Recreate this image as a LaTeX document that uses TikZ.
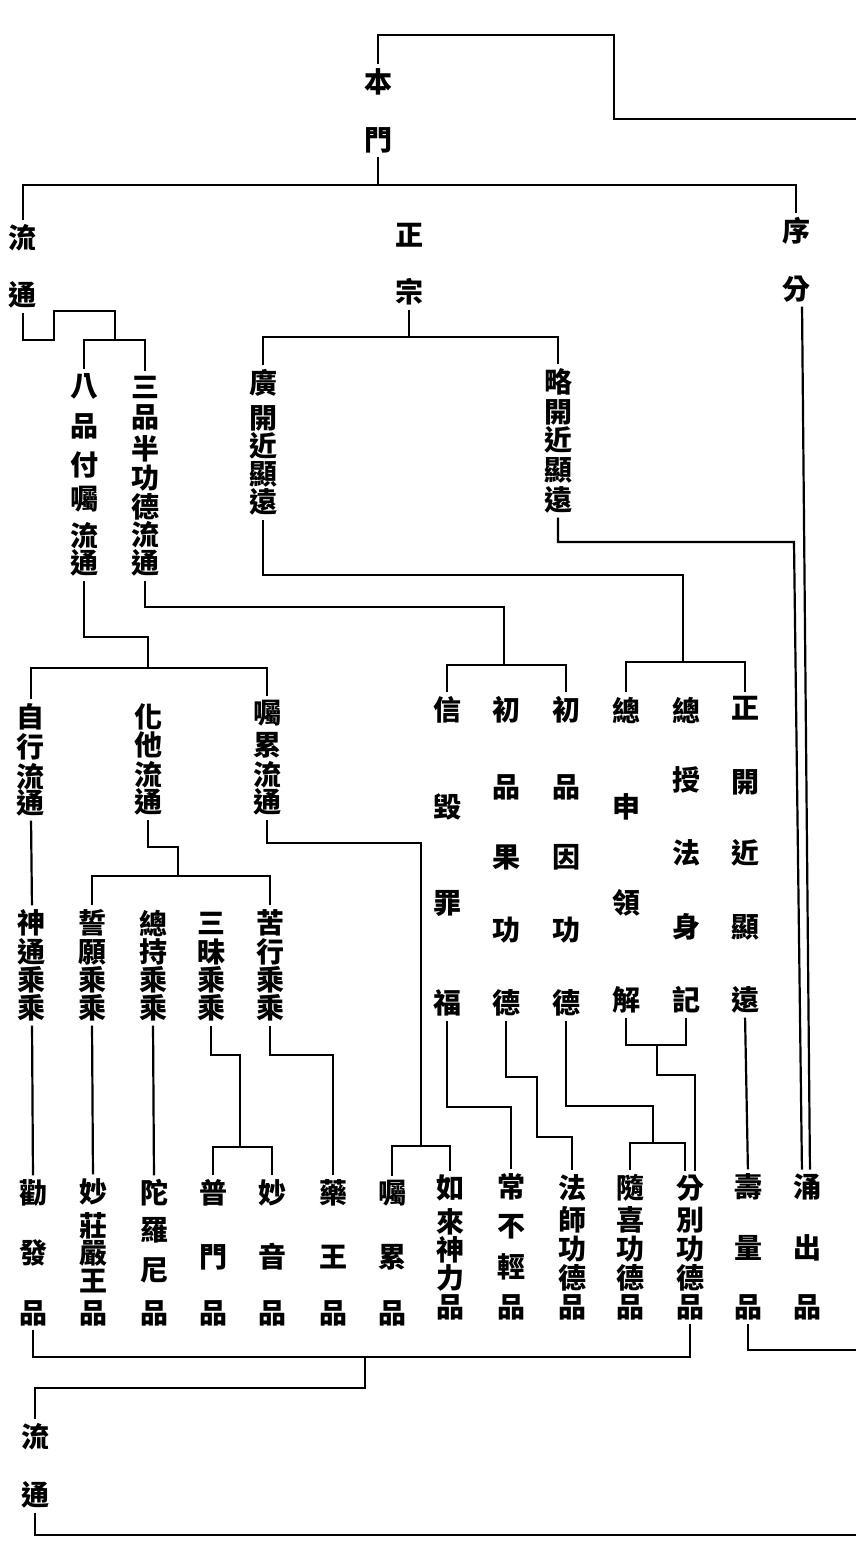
\documentclass[tikz,border=0pt]{standalone}
\usepackage{fontspec}
\newfontfamily\cjk{Noto Sans CJK TC}
\tikzset{
  chr/.style={inner sep=0pt, font={\cjk\bfseries\fontsize{14}{14}\selectfont}},
  conn/.style={line width=1.1pt, line cap=rect, line join=miter},
  gapa/.style={shorten <=2.5pt},
  gapb/.style={shorten >=2.5pt},
}
\newcommand\vlab[3]{\foreach \yy/\cc [count=\i] in {#3} {\node[chr] (#1-\i) at (#2,\yy) {\cc};}}
\begin{document}
\begin{tikzpicture}[x=0.5pt,y=-0.5pt]
\useasboundingbox (0,0) rectangle (856,1555);
\fill[white] (0,0) rectangle (856,1555);
% ---- labels ----
\vlab{bm}{378}{82/本,140/門}
\vlab{lta}{23}{238/流,295/通}
\vlab{zz}{409}{235/正,292/宗}
\vlab{xf}{796}{231/序,289/分}
\vlab{bp}{84}{386/八,426/品,465/付,499/囑,536/流,563/通}
\vlab{sp}{145}{387/三,417/品,449/半,478/功,507/德,535/流,563/通}
\vlab{gk}{263}{383/廣,418/開,446/近,474/顯,502/遠}
\vlab{lk}{558}{382/略,412/開,440/近,470/顯,500/遠}
\vlab{zx}{31}{717/自,747/行,777/流,803/通}
\vlab{ht}{148}{717/化,745/他,775/流,802/通}
\vlab{zl}{267}{713/囑,745/累,775/流,802/通}
\vlab{xh}{447}{710/信,807/毀,903/罪,1003/福}
\vlab{cg}{506}{710/初,787/品,857/果,930/功,1003/德}
\vlab{cy}{566}{710/初,787/品,857/因,930/功,1003/德}
\vlab{zs}{626}{710/總,807/申,903/領,1000/解}
\vlab{zsh}{686}{710/總,780/授,853/法,927/身,1000/記}
\vlab{zk}{745}{708/正,782/開,853/近,927/顯,1000/遠}
\vlab{st}{32}{923/神,952/通,980/乘,1008/乘}
\vlab{sy}{92}{923/誓,952/願,980/乘,1008/乘}
\vlab{zc}{153}{923/總,952/持,980/乘,1008/乘}
\vlab{sm}{211}{923/三,952/昧,980/乘,1008/乘}
\vlab{kx}{270}{923/苦,952/行,980/乘,1008/乘}
\vlab{qf}{33}{1193/勸,1253/發,1313/品}
\vlab{mz}{93}{1192/妙,1226/莊,1253/嚴,1281/王,1313/品}
\vlab{tl}{154}{1193/陀,1230/羅,1270/尼,1313/品}
\vlab{pm}{213}{1193/普,1257/門,1313/品}
\vlab{my}{272}{1193/妙,1257/音,1313/品}
\vlab{yw}{333}{1193/藥,1257/王,1313/品}
\vlab{zlp}{392}{1193/囑,1257/累,1313/品}
\vlab{rl}{450}{1188/如,1222/來,1250/神,1278/力,1307/品}
\vlab{cb}{511}{1187/常,1227/不,1267/輕,1307/品}
\vlab{fs}{572}{1188/法,1220/師,1249/功,1278/德,1307/品}
\vlab{sx}{630}{1188/隨,1220/喜,1249/功,1278/德,1307/品}
\vlab{fb}{690}{1188/分,1220/別,1249/功,1278/德,1307/品}
\vlab{sl}{748}{1187/壽,1248/量,1307/品}
\vlab{yc}{807}{1187/涌,1248/出,1307/品}
\vlab{ltb}{35}{1437/流,1495/通}
% ---- junctions ----
\coordinate (j1) at (378,185);
\coordinate (j2) at (115,340);
\coordinate (j3) at (409,337);
\coordinate (j4) at (148,668);
\coordinate (j5) at (504,665);
\coordinate (j6) at (683,662);
\coordinate (j7) at (178,876);
\coordinate (j8) at (421,1146);
\coordinate (j9) at (240,1147);
\coordinate (j10) at (653,1143);
\coordinate (j11) at (657,1045);
\coordinate (j12) at (365,1357);
\coordinate (er1) at (856,119);
\coordinate (er2) at (856,1350);
\coordinate (er3) at (856,1535);
% ---- connectors ----
\draw[conn,gapa] (bm-1.north) -- (378,35) -| (614,119) -- (er1);
\draw[conn,gapa] (bm-2.south) -- (j1);
\draw[conn,gapb] (j1) -| (lta-1.north);
\draw[conn,gapb] (j1) -| (xf-1.north);
% liutong loop
\draw[conn,gapa] (lta-2.south) |- (54,340) |- (115,311) -- (j2);
\draw[conn,gapb] (j2) -| (bp-1.north);
\draw[conn,gapb] (j2) -| (sp-1.north);
% zhengzong
\draw[conn,gapa] (zz-2.south) -- (j3);
\draw[conn,gapb] (j3) -| (gk-1.north);
\draw[conn,gapb] (j3) -| (lk-1.north);
% xufen and luekai long lines
\draw[conn,gapa,gapb] ([xshift=3pt]xf-2.south) -- ([xshift=1.5pt]yc-1.north);
\draw[conn,gapa,gapb] (lk-5.south) |- (794,542) -- ([xshift=-2.5pt]yc-1.north);
% bapin
\draw[conn,gapa] (bp-6.south) |- (148,637) -- (j4);
\draw[conn,gapb] (j4) -| (zx-1.north);
\draw[conn,gapb] (j4) -| (zl-1.north);
% sanpin
\draw[conn,gapa] (sp-7.south) |- (504,607) -- (j5);
\draw[conn,gapb] (j5) -| (xh-1.north);
\draw[conn,gapb] (j5) -| (cy-1.north);
% guangkai
\draw[conn,gapa] (gk-5.south) |- (683,575) -- (j6);
\draw[conn,gapb] (j6) -| (zs-1.north);
\draw[conn,gapb] (j6) -| (zk-1.north);
% zixing
\draw[conn,gapa,gapb] (zx-4.south) -- (st-1.north);
% huata
\draw[conn,gapa] (ht-4.south) |- (178,847) -- (j7);
\draw[conn,gapb] (j7) -| (sy-1.north);
\draw[conn,gapb] (j7) -| (kx-1.north);
% zhulei
\draw[conn,gapa] (zl-4.south) |- (421,843) -- (j8);
\draw[conn,gapb] (j8) -| (zlp-1.north);
\draw[conn,gapb] (j8) -| (rl-1.north);
% chengcheng
\draw[conn,gapa,gapb] (st-4.south) -- (qf-1.north);
\draw[conn,gapa,gapb] (sy-4.south) -- (mz-1.north);
\draw[conn,gapa,gapb] (zc-4.south) -- (tl-1.north);
\draw[conn,gapa] (sm-4.south) |- (240,1055) -- (j9);
\draw[conn,gapb] (j9) -| (pm-1.north);
\draw[conn,gapb] (j9) -| (my-1.north);
\draw[conn,gapa,gapb] (kx-4.south) |- (333,1055) -- (yw-1.north);
% right middle group
\draw[conn,gapa,gapb] (xh-4.south) |- (511,1107) -- (cb-1.north);
\draw[conn,gapa,gapb] (cg-5.south) |- (537,1077) |- (572,1137) -- (fs-1.north);
\draw[conn,gapa] (cy-5.south) |- (653,1106) -- (j10);
\draw[conn,gapb] (j10) -| (sx-1.north);
\draw[conn,gapb] (j10) -| ([xshift=-2.5pt]fb-1.north);
\draw[conn,gapa] (zs-4.south) |- (j11);
\draw[conn,gapa] (zsh-5.south) |- (j11);
\draw[conn,gapb] (j11) |- (695,1075) -- ([xshift=2.5pt]fb-1.north);
\draw[conn,gapa,gapb] (zk-5.south) -- (sl-1.north);
% bottom
\draw[conn,gapa] (qf-3.south) |- (j12);
\draw[conn,gapa] (fb-5.south) |- (j12);
\draw[conn,gapb] (j12) |- (35,1388) -- (ltb-1.north);
\draw[conn,gapa] (sl-3.south) |- (er2);
\draw[conn,gapa] (ltb-2.south) |- (er3);
\end{tikzpicture}
\end{document}
